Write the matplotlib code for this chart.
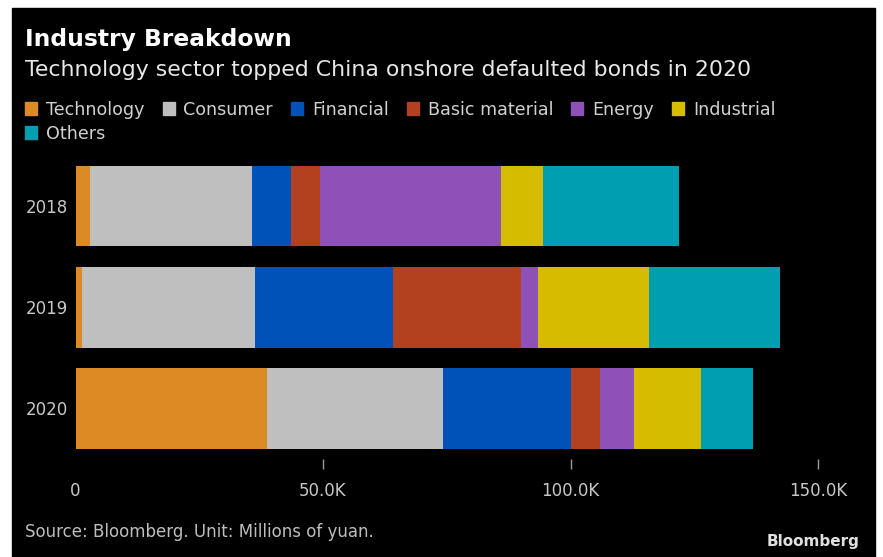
import matplotlib
matplotlib.use("Agg")
import matplotlib.pyplot as plt
from matplotlib.patches import Rectangle
import numpy as np

plt.rcParams["font.family"] = ["DejaVu Sans"]

years = ["2018", "2019", "2020"]
sectors = ["Technology", "Consumer", "Financial", "Basic material",
           "Energy", "Industrial", "Others"]
colors = ["#DB8A24", "#BFBFBF", "#0052B8", "#B3401E",
          "#8E52B6", "#D5BC00", "#009EB1"]

# values in thousands of millions of yuan
technology = [3.0, 1.4, 38.6]
consumer = [32.6, 34.8, 35.7]
financial = [7.9, 28.0, 25.9]
basic_material = [5.8, 25.9, 5.7]
energy = [36.7, 3.3, 7.0]
industrial = [8.4, 22.5, 13.5]
others = [27.6, 26.4, 10.5]

series = [technology, consumer, financial, basic_material, energy, industrial, others]

xticks = [0, 50, 100, 150]
xticklabels = ["0", "50.0K", "100.0K", "150.0K"]

W, H = 883, 557
fig = plt.figure(figsize=(W / 100, H / 100), dpi=100, facecolor="white")

# black panel inside the thin white frame
fig.add_artist(Rectangle((12 / W, 0), (875 - 12) / W, (H - 8) / H,
                         transform=fig.transFigure, color="black", zorder=-10))

ax = fig.add_axes([75.5 / W, 1 - 458.8 / H, (155 * 4.95) / W, (458.8 - 155.5) / H])
ax.set_facecolor("black")
ax.patch.set_alpha(0)

y = np.arange(len(years))
left = np.zeros(len(years))
for name, vals, c in zip(sectors, series, colors):
    ax.barh(y, vals, left=left, height=0.8, color=c, label=name)
    left += np.array(vals)

ax.set_xlim(0, 155)
ax.set_ylim(2.5, -0.5)
for s in ax.spines.values():
    s.set_visible(False)

ax.set_yticks(y)
ax.set_yticklabels(years, fontsize=12, color="#C8C8C8")
ax.tick_params(axis="y", length=0, pad=5.5)
ax.set_xticks(xticks)
ax.set_xticklabels(xticklabels, fontsize=12, color="#C8C8C8")
ax.tick_params(axis="x", length=7, width=1, color="#9A9A9A", direction="out", pad=10)
ax.xaxis.get_major_ticks()[0].tick1line.set_visible(False)


def fy(px):
    return 1 - px / H


fig.text(25 / W, fy(46), "Industry Breakdown", fontsize=16.8, fontweight="bold",
         color="white", va="baseline")
fig.text(25 / W, fy(76), "Technology sector topped China onshore defaulted bonds in 2020",
         fontsize=15.8, color="#E8E8E8", va="baseline")

# legend laid out as flowing text
renderer = fig.canvas.get_renderer()
x = 25
row_base = 115
for name, c in zip(sectors, colors):
    t = fig.text(0, 0, name, fontsize=12.6, color="#D0D0D0", va="baseline")
    tw = t.get_window_extent(renderer).width
    if x + 22 + tw > 860:
        x = 25
        row_base += 24
    fig.add_artist(Rectangle((x / W, fy(row_base)), 12 / W, 13 / H,
                             transform=fig.transFigure, color=c))
    t.set_position(((x + 21) / W, fy(row_base)))
    x += 21 + tw + 18

fig.text(25 / W, fy(537), "Source: Bloomberg. Unit: Millions of yuan.",
         fontsize=12, color="#BEBEBE", va="baseline")
fig.text(860 / W, fy(546), "Bloomberg", fontsize=11, fontweight="bold",
         color="#E0E0E0", va="baseline", ha="right")

fig.savefig("out.png", dpi=100, facecolor=fig.get_facecolor())
